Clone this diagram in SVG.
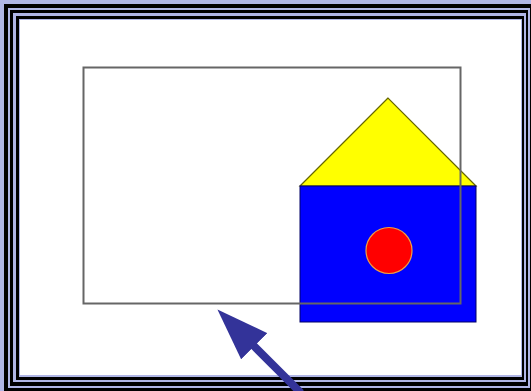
<svg xmlns="http://www.w3.org/2000/svg" width="531" height="391" viewBox="0 0 531 391">
  <style>
    .lav { fill: #b0b6e6; }
    .blk { fill: #000000; }
  </style>
  <defs>
    <marker id="head" viewBox="0 0 52 37" refX="1" refY="18.5" markerWidth="52" markerHeight="37" markerUnits="userSpaceOnUse" orient="auto">
      <path d="M0,0 L52,18.5 L0,37 z" fill="#333399"/>
    </marker>
  </defs>
  <g id="frame">
    <rect class="lav" x="0" y="0" width="531" height="391"/>
    <rect class="blk" x="4" y="4" width="527" height="387"/>
    <rect class="lav" x="8" y="8" width="522" height="380"/>
    <rect class="blk" x="10" y="10" width="518" height="376"/>
    <rect class="lav" x="13" y="13" width="513" height="369"/>
    <rect class="blk" x="16" y="16" width="508" height="364"/>
    <rect class="lav" x="19" y="19" width="503" height="358"/>
    <rect fill="#ffffff" x="20" y="20" width="501" height="355"/>
  </g>
  <g id="house">
    <polygon points="388,98 300,186 476,186" fill="#ffff00" stroke="#666600" stroke-width="1.2"/>
    <rect x="300" y="186" width="176" height="136" fill="#0000ff" stroke="#000066" stroke-width="1"/>
    <circle cx="389" cy="250.5" r="23" fill="#ff0000" stroke="#f0a040" stroke-width="1.2"/>
  </g>
  <g id="outline">
    <rect x="83.5" y="67.5" width="377" height="236" fill="none" stroke="#666666" stroke-width="2"/>
  </g>
  <g id="connectors">
    <line x1="301" y1="393" x2="253.5" y2="345.5" stroke="#333399" stroke-width="8" marker-end="url(#head)"/>
  </g>
</svg>
